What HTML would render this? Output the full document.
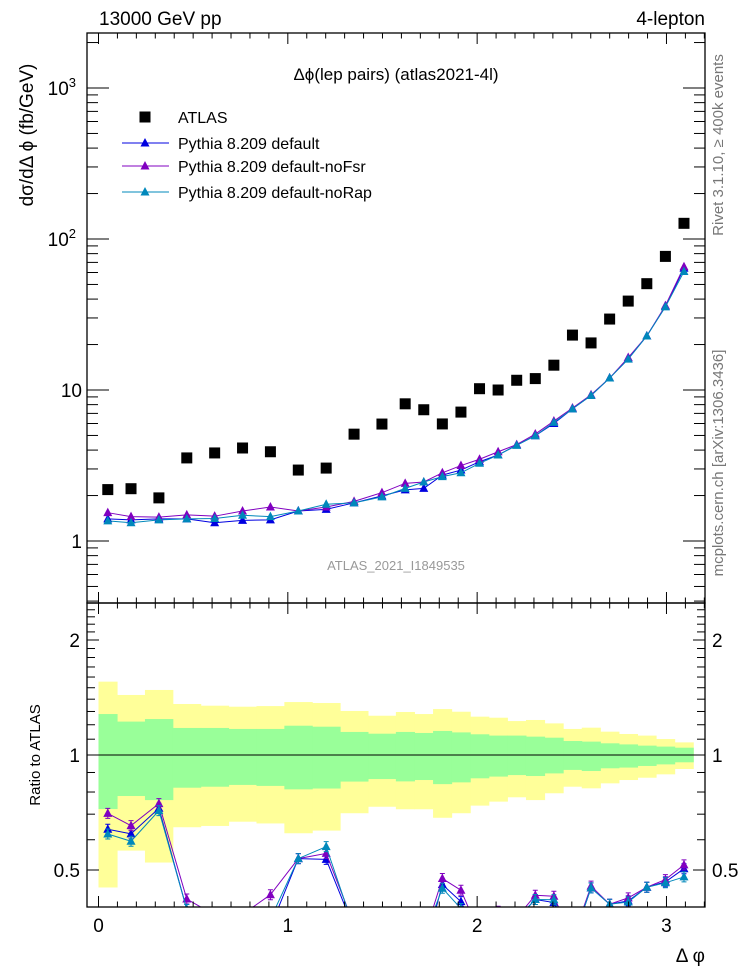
<!DOCTYPE html>
<html><head><meta charset="utf-8"><style>
html,body{margin:0;padding:0;background:#fff;}
svg{display:block;font-family:"Liberation Sans","DejaVu Sans",sans-serif;}
</style></head><body>
<svg id="c" width="746" height="972" viewBox="0 0 746 972"></svg>
<script>
const binEdgesUnits=[0,1,2.5,4,5.5,7,8.5,10,11.5,13,14.5,16,17,18,19,20,21,22,23,24,25,26,27,28,29,30,31,32];
const atlasValues=[2.19,2.22,1.93,3.55,3.83,4.13,3.9,2.95,3.04,5.1,5.95,8.1,7.4,5.96,7.14,10.2,10.0,11.6,11.9,14.6,23.1,20.5,29.5,38.8,50.6,76.7,127];
const pyDefault=[1.40,1.38,1.40,1.40,1.32,1.37,1.38,1.58,1.62,1.79,1.99,2.18,2.23,2.73,2.95,3.35,3.71,4.32,4.98,6.0,7.5,9.2,12.0,16.1,22.8,35.7,64.0];
const pyNoFsr=[1.54,1.45,1.44,1.49,1.46,1.58,1.68,1.58,1.68,1.83,2.09,2.41,2.46,2.83,3.16,3.48,3.90,4.35,5.11,6.23,7.6,9.3,12.0,16.4,22.8,36.2,65.5];
const pyNoRap=[1.36,1.32,1.38,1.40,1.41,1.48,1.45,1.58,1.75,1.79,1.96,2.23,2.46,2.67,2.83,3.27,3.71,4.30,4.98,6.1,7.5,9.2,12.0,16.0,22.8,35.5,60.9];
const bandYellowUp=[1.556,1.436,1.48,1.36,1.346,1.338,1.343,1.376,1.368,1.304,1.267,1.296,1.28,1.319,1.298,1.26,1.252,1.227,1.235,1.21,1.17,1.179,1.151,1.135,1.124,1.101,1.079];
const bandGreenUp=[1.28,1.223,1.242,1.177,1.177,1.17,1.17,1.193,1.186,1.149,1.137,1.149,1.142,1.156,1.146,1.133,1.124,1.124,1.117,1.11,1.088,1.084,1.073,1.066,1.058,1.052,1.045];
const bandGreenDown=[0.722,0.781,0.762,0.821,0.826,0.835,0.83,0.813,0.817,0.852,0.865,0.853,0.86,0.839,0.848,0.869,0.878,0.886,0.881,0.895,0.914,0.908,0.923,0.927,0.936,0.945,0.957];
const bandYellowDown=[0.45,0.562,0.523,0.647,0.652,0.669,0.662,0.624,0.634,0.704,0.732,0.721,0.721,0.685,0.704,0.737,0.755,0.775,0.762,0.794,0.826,0.818,0.843,0.86,0.872,0.89,0.919];
const xTickLabels=["0","1","2","3"];
const mainTickLabels=[["1",0],["10",1],["10","2"],["10","3"]];

const NS="http://www.w3.org/2000/svg";
const svg=document.getElementById('c');
function mk(tag,attrs,parent){const e=document.createElementNS(NS,tag);for(const k in attrs)e.setAttribute(k,attrs[k]);(parent||svg).appendChild(e);return e;}
const L=87,R=705,T=33,MID=603,B=907;
const X0=-0.0607,X1=3.2035;
function xs(v){return L+(v-X0)/(X1-X0)*(R-L);}
function ym(v){return 541-151*Math.log10(v);}
function yr(v){return 755-382*Math.log10(v);}
const edges=binEdgesUnits.map(u=>u*Math.PI/32);
const centers=edges.slice(0,-1).map((e,i)=>(e+edges[i+1])/2);

const gBands=mk('g',{});


for(let i=0;i<atlasValues.length;i++){
  const x0=xs(edges[i]),x1=xs(edges[i+1]);
  const ry=mk('rect',{x:x0,y:yr(bandYellowUp[i]),width:x1-x0+0.5,height:yr(bandYellowDown[i])-yr(bandYellowUp[i]),fill:'#ffff99'},gBands);
  
  
}
for(let i=0;i<atlasValues.length;i++){
  const x0=xs(edges[i]),x1=xs(edges[i+1]);
  const rg=mk('rect',{x:x0,y:yr(bandGreenUp[i]),width:x1-x0+0.5,height:yr(bandGreenDown[i])-yr(bandGreenUp[i]),fill:'#99ff99'},gBands);
  
  
}
mk('line',{x1:xs(0),x2:xs(Math.PI),y1:yr(1),y2:yr(1),stroke:'#000','stroke-width':1});

const defs=mk('defs',{});
const c1=mk('clipPath',{id:'cm'},defs);mk('rect',{x:L,y:T,width:R-L,height:MID-T},c1);
const c2=mk('clipPath',{id:'cr'},defs);mk('rect',{x:L,y:MID,width:R-L,height:B-MID},c2);

const series=[[pyDefault,'#0000e0','default'],[pyNoFsr,'#8000c0','nofsr'],[pyNoRap,'#0088bb','norap']];
function tri(g,x,y,col){mk('path',{d:`M${x-4.5},${y+3.5}L${x+4.5},${y+3.5}L${x},${y-5}Z`,fill:col},g);}

const gm=mk('g',{'clip-path':'url(#cm)'});
series.forEach(([vals,col,nm])=>{
  const g=mk('g',{},gm);
  
  
  mk('polyline',{points:vals.map((v,i)=>xs(centers[i])+','+ym(v)).join(' '),fill:'none',stroke:col,'stroke-width':1},g);
  vals.forEach((v,i)=>tri(g,xs(centers[i]),ym(v),col));
});
const ga=mk('g',{'clip-path':'url(#cm)'});


atlasValues.forEach((v,i)=>{mk('rect',{x:xs(centers[i])-5.5,y:ym(v)-5.5,width:11,height:11,fill:'#000'},ga);});

const gr=mk('g',{'clip-path':'url(#cr)'});
series.forEach(([vals,col,nm])=>{
  const g=mk('g',{},gr);
  
  
  const rs=vals.map((v,i)=>v/atlasValues[i]);
  mk('polyline',{points:rs.map((r,i)=>xs(centers[i])+','+yr(r)).join(' '),fill:'none',stroke:col,'stroke-width':1},g);
  rs.forEach((r,i)=>{const x=xs(centers[i]),y=yr(r);
    mk('path',{d:`M${x},${y-5}V${y+5}M${x-2.5},${y-5}H${x+2.5}M${x-2.5},${y+5}H${x+2.5}`,stroke:col,'stroke-width':1},g);
    tri(g,x,y,col);});
});

mk('rect',{x:L,y:T,width:R-L,height:MID-T,fill:'none',stroke:'#000','stroke-width':1.3});
mk('rect',{x:L,y:MID,width:R-L,height:B-MID,fill:'none',stroke:'#000','stroke-width':1.3});

const tk=mk('g',{stroke:'#000','stroke-width':1});


for(let k=0;k<=32;k++){const v=k/10;if(v>X1)break;const x=xs(v);const len=(k%10===0)?11:5.5;
  [T,MID].forEach(yy=>mk('line',{x1:x,x2:x,y1:yy,y2:yy+len},tk));
  [MID,B].forEach(yy=>mk('line',{x1:x,x2:x,y1:yy,y2:yy-len},tk));}
for(let d=-1;d<=3;d++){for(let m=1;m<=9;m++){const v=m*Math.pow(10,d);const y=ym(v);if(y<T||y>MID)continue;const len=m===1?22:11;
  mk('line',{x1:L,x2:L+len,y1:y,y2:y},tk);mk('line',{x1:R,x2:R-len,y1:y,y2:y},tk);}}
[0.4,0.5,0.6,0.7,0.8,0.9,1,1.1,1.2,1.3,1.4,1.5,1.6,1.7,1.8,1.9,2,2.1,2.2,2.3,2.4,2.5].forEach(v=>{const y=yr(v);if(y<MID||y>B)return;const big=(v===0.5||v===1||v===2);const len=big?12:8;
  mk('line',{x1:L,x2:L+len,y1:y,y2:y},tk);mk('line',{x1:R,x2:R-len,y1:y,y2:y},tk);});

function txt(s,a,name){const e=mk('text',a);e.textContent=s;return e;}
xTickLabels.forEach((s,i)=>txt(s,{x:xs(+s),y:932,'font-size':19,'text-anchor':'middle'},'x-tick-label'));
txt('Δ φ',{x:705,y:962,'font-size':19,'text-anchor':'end'},'x-axis-title');
mainTickLabels.forEach(([b,e])=>{const y=ym(Math.pow(10,+e))+7;
  const t=mk('text',{x:+e>=2?76:82,y:y,'font-size':19,'text-anchor':'end'});
  t.textContent=b;if(+e>=2){const s=mk('tspan',{'font-size':13,dy:-8},t);s.textContent=e;}});
[["2",2],["1",1],["0.5",0.5]].forEach(([s,v])=>{txt(s,{x:80,y:yr(v)+7,'font-size':19,'text-anchor':'end'},'ratio-tick-label-left');txt(s,{x:712,y:yr(v)+7,'font-size':19},'ratio-tick-label-right');});
txt('13000 GeV pp',{x:99,y:25,'font-size':19},'energy-label');
txt('4-lepton',{x:705,y:25,'font-size':19,'text-anchor':'end'},'process-label');
txt('Δϕ(lep pairs) (atlas2021-4l)',{x:396,y:80,'font-size':17,'text-anchor':'middle'},'plot-title');
txt('dσ/dΔ ϕ (fb/GeV)',{x:0,y:0,'font-size':19,'text-anchor':'middle',transform:'translate(33,135) rotate(-90)'},'y-axis-title');
txt('Ratio to ATLAS',{x:0,y:0,'font-size':15,'text-anchor':'middle',transform:'translate(40,755) rotate(-90)'},'ratio-axis-title');
txt('ATLAS_2021_I1849535',{x:396,y:570,'font-size':13,fill:'#999','text-anchor':'middle'},'analysis-id');
txt('Rivet 3.1.10, ≥ 400k events',{x:0,y:0,'font-size':15,fill:'#777','text-anchor':'middle',transform:'translate(723,145) rotate(-90)'},'rivet-label');
txt('mcplots.cern.ch [arXiv:1306.3436]',{x:0,y:0,'font-size':15,fill:'#777','text-anchor':'middle',transform:'translate(723,463) rotate(-90)'},'mcplots-label');
const lg=mk('g',{});


mk('rect',{x:139.5,y:111.5,width:11,height:11,fill:'#000'},lg);
txt('ATLAS',{x:178,y:123,'font-size':16},'legend-entry-atlas');
[['Pythia 8.209 default','#0000e0',143],['Pythia 8.209 default-noFsr','#8000c0',166],['Pythia 8.209 default-noRap','#0088bb',192]].forEach(([s,col,y])=>{
  mk('line',{x1:122,x2:169,y1:y,y2:y,stroke:col,'stroke-width':1},lg);tri(lg,145,y,col);
  txt(s,{x:178,y:y+6,'font-size':16},'legend-entry');});
</script>
</body></html>
